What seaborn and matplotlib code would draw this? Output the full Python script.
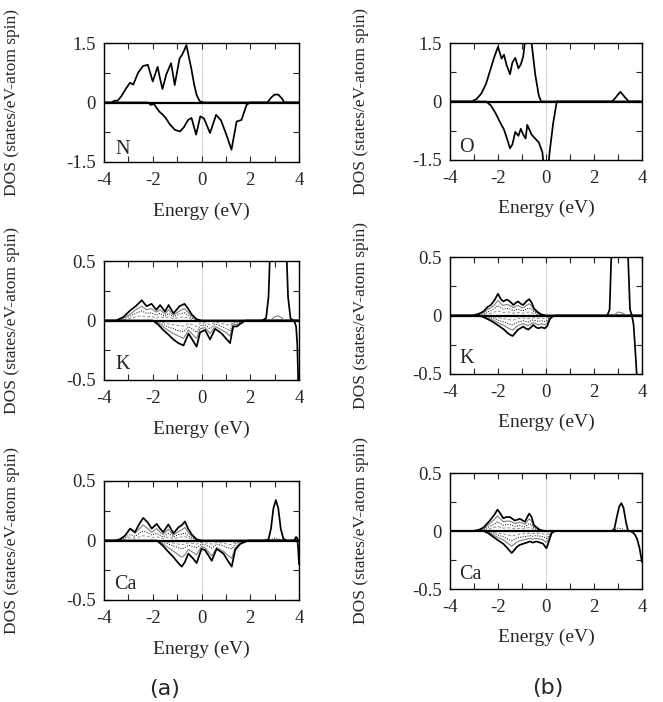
import matplotlib
matplotlib.use("Agg")
import matplotlib.pyplot as plt
import seaborn as sns
from matplotlib.ticker import MultipleLocator

# ---------------- data ----------------
# (a) N
N_up_x = [-4.0, -3.7, -3.55, -3.45, -3.3, -3.1, -2.93, -2.8, -2.6, -2.4, -2.2, -2.0, -1.8, -1.7, -1.6, -1.45, -1.25, -1.18, -1.1, -0.9, -0.8, -0.72, -0.62, -0.52, -0.42, -0.3, -0.2, -0.07, 0.1, 2.7, 2.85, 3.0, 3.15, 3.3, 3.4, 4.0]
N_up_y = [0, 0, 0.05, 0.04, 0.15, 0.35, 0.5, 0.45, 0.75, 0.92, 0.95, 0.53, 0.9, 0.6, 0.34, 0.7, 0.99, 0.75, 0.44, 1.11, 1.2, 1.3, 1.45, 1.15, 0.86, 0.45, 0.19, 0.03, 0, 0, 0.12, 0.2, 0.2, 0.1, 0, 0]
N_dn_x = [-4.0, -2.2, -2.08, -1.95, -1.73, -1.6, -1.47, -1.3, -1.09, -0.88, -0.72, -0.55, -0.41, -0.22, -0.05, 0.1, 0.35, 0.6, 0.8, 1.02, 1.23, 1.44, 1.64, 1.85, 1.99, 4.0]
N_dn_y = [0, 0, -0.06, -0.04, -0.23, -0.3, -0.39, -0.55, -0.69, -0.73, -0.62, -0.44, -0.39, -0.81, -0.35, -0.4, -0.77, -0.31, -0.45, -0.81, -1.19, -0.48, -0.44, -0.06, 0, 0]

# (b) O
O_up_x = [-4.0, -3.1, -2.9, -2.7, -2.5, -2.3, -2.15, -2.0, -1.85, -1.75, -1.65, -1.5, -1.4, -1.28, -1.15, -1.05, -0.95, -0.85, -0.7, -0.6, -0.45, -0.3, -0.2, 2.75, 2.9, 3.1, 3.3, 3.45, 4.0]
O_up_y = [0, 0, 0.06, 0.2, 0.45, 0.85, 1.15, 1.4, 1.1, 1.2, 0.95, 0.7, 1.0, 1.12, 0.85, 0.95, 1.15, 1.7, 2.4, 1.5, 0.7, 0.15, 0, 0, 0.1, 0.25, 0.1, 0, 0]
O_dn_x = [-4.0, -2.5, -2.3, -2.1, -1.9, -1.75, -1.6, -1.5, -1.4, -1.28, -1.15, -1.05, -0.95, -0.85, -0.78, -0.6, -0.45, -0.3, -0.15, -0.05, 0.05, 0.15, 0.3, 0.45, 4.0]
O_dn_y = [0, 0, -0.1, -0.3, -0.55, -0.72, -1.0, -1.2, -1.1, -0.78, -0.88, -0.7, -0.85, -0.95, -0.6, -0.85, -0.95, -1.05, -1.3, -2.0, -2.0, -1.3, -0.55, 0, 0]

# (a) K
KA_up_x = [-4.0, -3.5, -3.2, -2.95, -2.7, -2.45, -2.25, -2.05, -1.85, -1.7, -1.5, -1.35, -1.15, -0.9, -0.7, -0.55, -0.4, -0.2, 0.0, 4.0]
KA_up_1 = [0, 0, 0.03, 0.08, 0.12, 0.17, 0.12, 0.14, 0.09, 0.13, 0.075, 0.13, 0.06, 0.12, 0.14, 0.1, 0.05, 0.01, 0, 0]
KA_up_2 = [0, 0, 0.02, 0.05, 0.09, 0.12, 0.09, 0.1, 0.07, 0.09, 0.055, 0.09, 0.045, 0.08, 0.1, 0.07, 0.035, 0.01, 0, 0]
KA_up_3 = [0, 0, 0.01, 0.035, 0.06, 0.08, 0.06, 0.065, 0.045, 0.06, 0.035, 0.06, 0.03, 0.055, 0.065, 0.045, 0.02, 0.005, 0, 0]
KA_up_4 = [0, 0, 0.005, 0.015, 0.03, 0.04, 0.03, 0.035, 0.02, 0.03, 0.02, 0.03, 0.015, 0.025, 0.03, 0.02, 0.01, 0, 0, 0]
KA_dn_x = [-4.0, -2.0, -1.8, -1.57, -1.35, -1.15, -0.95, -0.74, -0.53, -0.35, -0.2, -0.06, 0.15, 0.35, 0.56, 0.7, 0.83, 1.0, 1.17, 1.3, 1.45, 1.58, 1.8, 4.0]
KA_dn_1 = [0, 0, -0.03, -0.08, -0.12, -0.16, -0.19, -0.21, -0.11, -0.17, -0.22, -0.1, -0.08, -0.16, -0.07, -0.09, -0.11, -0.15, -0.19, -0.05, -0.05, -0.03, 0, 0]
KA_dn_2 = [0, 0, -0.02, -0.055, -0.085, -0.11, -0.13, -0.15, -0.08, -0.12, -0.15, -0.07, -0.06, -0.11, -0.05, -0.065, -0.08, -0.1, -0.13, -0.035, -0.035, -0.02, 0, 0]
KA_dn_3 = [0, 0, -0.012, -0.035, -0.055, -0.07, -0.085, -0.095, -0.05, -0.075, -0.1, -0.045, -0.035, -0.07, -0.03, -0.04, -0.05, -0.065, -0.085, -0.02, -0.02, -0.012, 0, 0]
KA_dn_4 = [0, 0, -0.006, -0.018, -0.028, -0.035, -0.042, -0.048, -0.025, -0.038, -0.05, -0.022, -0.018, -0.035, -0.015, -0.02, -0.025, -0.032, -0.042, -0.01, -0.01, -0.006, 0, 0]
KA_cb_x = [2.5, 2.65, 2.75, 2.85, 3.0, 3.3, 3.45, 3.55, 3.65, 3.75]
KA_cb_y = [0, 0.02, 0.2, 0.8, 1.5, 1.5, 0.8, 0.2, 0.02, 0]
KA_cbi_x = [2.8, 3.0, 3.15, 3.3, 3.45]
KA_cbi_y = [0, 0.03, 0.04, 0.02, 0]
KA_edge_x = [3.8, 3.88, 3.93, 3.96, 4.0]
KA_edge_y = [0, -0.05, -0.2, -0.45, -0.8]

# (b) K
KB_up_x = [-4.0, -3.05, -2.8, -2.6, -2.45, -2.3, -2.15, -2.0, -1.88, -1.78, -1.65, -1.57, -1.45, -1.36, -1.25, -1.16, -1.05, -0.95, -0.82, -0.7, -0.6, -0.5, -0.35, -0.2, 0.0, 4.0]
KB_up_1 = [0, 0, 0.015, 0.035, 0.07, 0.09, 0.13, 0.185, 0.14, 0.12, 0.135, 0.13, 0.11, 0.09, 0.11, 0.12, 0.1, 0.09, 0.12, 0.14, 0.11, 0.06, 0.03, 0.01, 0, 0]
KB_up_2 = [0, 0, 0.01, 0.025, 0.05, 0.065, 0.09, 0.13, 0.1, 0.085, 0.095, 0.09, 0.08, 0.065, 0.08, 0.085, 0.07, 0.065, 0.085, 0.1, 0.08, 0.045, 0.02, 0.005, 0, 0]
KB_up_3 = [0, 0, 0.006, 0.016, 0.032, 0.04, 0.06, 0.085, 0.065, 0.055, 0.06, 0.06, 0.05, 0.04, 0.05, 0.055, 0.045, 0.04, 0.055, 0.065, 0.05, 0.03, 0.012, 0.004, 0, 0]
KB_up_4 = [0, 0, 0.003, 0.008, 0.015, 0.02, 0.03, 0.04, 0.03, 0.025, 0.03, 0.03, 0.025, 0.02, 0.025, 0.025, 0.02, 0.02, 0.025, 0.03, 0.025, 0.015, 0.006, 0.002, 0, 0]
KB_dn_x = [-4.0, -2.8, -2.6, -2.34, -2.1, -1.92, -1.75, -1.6, -1.45, -1.39, -1.25, -1.16, -0.95, -0.85, -0.74, -0.62, -0.53, -0.42, -0.32, -0.2, -0.05, 0.05, 0.16, 0.3, 0.4, 4.0]
KB_dn_1 = [0, 0, -0.015, -0.04, -0.07, -0.095, -0.12, -0.15, -0.17, -0.175, -0.14, -0.12, -0.095, -0.11, -0.12, -0.1, -0.08, -0.1, -0.11, -0.1, -0.11, -0.09, -0.03, -0.005, 0, 0]
KB_dn_2 = [0, 0, -0.01, -0.03, -0.05, -0.07, -0.085, -0.105, -0.12, -0.125, -0.1, -0.085, -0.07, -0.08, -0.085, -0.07, -0.06, -0.07, -0.08, -0.07, -0.08, -0.065, -0.02, -0.003, 0, 0]
KB_dn_3 = [0, 0, -0.006, -0.018, -0.032, -0.045, -0.055, -0.07, -0.078, -0.08, -0.065, -0.055, -0.045, -0.05, -0.055, -0.045, -0.038, -0.045, -0.05, -0.045, -0.05, -0.04, -0.012, -0.002, 0, 0]
KB_dn_4 = [0, 0, -0.003, -0.009, -0.016, -0.022, -0.027, -0.034, -0.038, -0.04, -0.032, -0.027, -0.022, -0.025, -0.027, -0.022, -0.019, -0.022, -0.025, -0.022, -0.025, -0.02, -0.006, -0.001, 0, 0]
KB_cb_x = [2.55, 2.65, 2.72, 2.8, 3.0, 3.3, 3.42, 3.5, 3.58]
KB_cb_y = [0, 0.05, 0.5, 1.2, 1.5, 1.5, 0.5, 0.05, 0]
KB_cbi_x = [2.8, 3.0, 3.2, 3.4]
KB_cbi_y = [0, 0.03, 0.02, 0]
KB_edge_x = [3.58, 3.65, 3.72, 3.78, 3.85, 4.0]
KB_edge_y = [0, -0.08, -0.3, -0.5, -0.8, -1.2]

# (a) Ca
CA_up_x = [-4.0, -3.55, -3.35, -3.14, -2.93, -2.73, -2.55, -2.39, -2.2, -2.04, -1.84, -1.7, -1.57, -1.36, -1.15, -0.95, -0.8, -0.68, -0.55, -0.4, -0.2, 0.0, 4.0]
CA_up_1 = [0, 0, 0.01, 0.04, 0.1, 0.07, 0.14, 0.19, 0.15, 0.1, 0.14, 0.1, 0.07, 0.135, 0.06, 0.11, 0.13, 0.16, 0.1, 0.05, 0.01, 0, 0]
CA_up_2 = [0, 0, 0.01, 0.04, 0.095, 0.06, 0.1, 0.13, 0.1, 0.07, 0.1, 0.07, 0.05, 0.095, 0.045, 0.075, 0.09, 0.11, 0.07, 0.035, 0.008, 0, 0]
CA_up_3 = [0, 0, 0.005, 0.02, 0.05, 0.035, 0.06, 0.08, 0.065, 0.045, 0.06, 0.045, 0.03, 0.06, 0.03, 0.05, 0.055, 0.065, 0.04, 0.02, 0.005, 0, 0]
CA_up_4 = [0, 0, 0.003, 0.01, 0.025, 0.02, 0.03, 0.04, 0.035, 0.025, 0.03, 0.025, 0.015, 0.03, 0.015, 0.025, 0.03, 0.035, 0.02, 0.01, 0.002, 0, 0]
CA_dn_x = [-4.0, -1.84, -1.6, -1.43, -1.15, -0.95, -0.81, -0.68, -0.54, -0.35, -0.2, 0.0, 0.14, 0.3, 0.42, 0.62, 0.9, 1.05, 1.24, 1.38, 1.58, 1.92, 4.0]
CA_dn_1 = [0, 0, -0.04, -0.08, -0.14, -0.19, -0.22, -0.18, -0.11, -0.15, -0.19, -0.07, -0.08, -0.13, -0.17, -0.07, -0.11, -0.16, -0.22, -0.08, -0.03, 0, 0]
CA_dn_2 = [0, 0, -0.025, -0.05, -0.09, -0.12, -0.14, -0.12, -0.075, -0.1, -0.12, -0.05, -0.06, -0.1, -0.13, -0.06, -0.09, -0.12, -0.15, -0.06, -0.02, 0, 0]
CA_dn_3 = [0, 0, -0.012, -0.025, -0.045, -0.06, -0.07, -0.06, -0.04, -0.05, -0.06, -0.03, -0.035, -0.05, -0.065, -0.03, -0.045, -0.06, -0.07, -0.03, -0.01, 0, 0]
CA_dn_4 = [0, 0, -0.006, -0.012, -0.022, -0.03, -0.035, -0.03, -0.02, -0.025, -0.03, -0.015, -0.018, -0.025, -0.03, -0.015, -0.022, -0.03, -0.035, -0.015, -0.005, 0, 0]
CA_cb_x = [2.6, 2.75, 2.85, 2.95, 3.05, 3.15, 3.25, 3.35, 3.45]
CA_cb_y = [0, 0.01, 0.1, 0.27, 0.34, 0.27, 0.1, 0.02, 0]
CA_cbi_x = [2.8, 3.0, 3.2, 3.3]
CA_cbi_y = [0, 0.02, 0.01, 0]
CA_edge_x = [3.8, 3.88, 3.93, 3.97, 4.0]
CA_edge_y = [0, 0.03, 0.02, -0.08, -0.2]

# (b) Ca
CB_up_x = [-4.0, -3.05, -2.8, -2.6, -2.34, -2.15, -2.02, -1.9, -1.78, -1.65, -1.5, -1.3, -1.09, -0.88, -0.78, -0.7, -0.6, -0.5, -0.26, -0.05, 4.0]
CB_up_1 = [0, 0, 0.01, 0.03, 0.09, 0.14, 0.185, 0.15, 0.11, 0.12, 0.12, 0.09, 0.105, 0.08, 0.12, 0.15, 0.12, 0.05, 0.01, 0, 0]
CB_up_2 = [0, 0, 0.007, 0.02, 0.065, 0.1, 0.13, 0.105, 0.08, 0.085, 0.085, 0.065, 0.075, 0.06, 0.085, 0.105, 0.085, 0.035, 0.007, 0, 0]
CB_up_3 = [0, 0, 0.004, 0.013, 0.04, 0.06, 0.08, 0.065, 0.05, 0.055, 0.055, 0.04, 0.047, 0.036, 0.055, 0.065, 0.053, 0.022, 0.004, 0, 0]
CB_up_4 = [0, 0, 0.002, 0.006, 0.02, 0.03, 0.04, 0.032, 0.025, 0.027, 0.027, 0.02, 0.023, 0.018, 0.027, 0.032, 0.026, 0.011, 0.002, 0, 0]
CB_dn_x = [-4.0, -2.6, -2.4, -2.2, -2.0, -1.78, -1.6, -1.43, -1.3, -1.23, -1.1, -0.95, -0.8, -0.67, -0.55, -0.4, -0.25, -0.12, 0.02, 0.12, 0.23, 0.37, 4.0]
CB_dn_1 = [0, 0, -0.02, -0.05, -0.08, -0.11, -0.15, -0.19, -0.16, -0.14, -0.12, -0.11, -0.1, -0.09, -0.1, -0.09, -0.1, -0.11, -0.15, -0.09, -0.02, 0, 0]
CB_dn_2 = [0, 0, -0.014, -0.035, -0.056, -0.077, -0.105, -0.13, -0.11, -0.1, -0.085, -0.077, -0.07, -0.063, -0.07, -0.063, -0.07, -0.077, -0.1, -0.06, -0.014, 0, 0]
CB_dn_3 = [0, 0, -0.009, -0.022, -0.036, -0.05, -0.068, -0.085, -0.072, -0.063, -0.054, -0.05, -0.045, -0.04, -0.045, -0.04, -0.045, -0.05, -0.065, -0.04, -0.009, 0, 0]
CB_dn_4 = [0, 0, -0.004, -0.011, -0.018, -0.025, -0.034, -0.042, -0.036, -0.031, -0.027, -0.025, -0.022, -0.02, -0.022, -0.02, -0.022, -0.025, -0.032, -0.02, -0.004, 0, 0]
CB_cb_x = [2.75, 2.85, 2.95, 3.05, 3.14, 3.23, 3.33, 3.42]
CB_cb_y = [0, 0.02, 0.12, 0.21, 0.24, 0.2, 0.08, 0]
CB_cbi_x = [2.8, 3.0, 3.15, 3.35]
CB_cbi_y = [0, 0.025, 0.02, 0]
CB_edge_x = [3.5, 3.6, 3.7, 3.8, 3.9, 4.0]
CB_edge_y = [0, -0.01, -0.03, -0.07, -0.15, -0.27]

ELEMENT_LABELS = ["N", "O", "K", "K", "Ca", "Ca"]
XTICKS = [-4, -2, 0, 2, 4]
YLAB = "DOS (states/eV-atom spin)"
XLAB = "Energy (eV)"

# ---------------- styling ----------------
sns.set_style("ticks")
plt.rcParams["font.family"] = ["Liberation Serif", "DejaVu Serif"]
plt.rcParams["mathtext.fontset"] = "stix"

W, H = 663, 702
fig = plt.figure(figsize=(W / 100, H / 100), dpi=100)

boxes = [
    (104, 43, 299, 162),
    (450, 43, 642, 160),
    (104, 261, 299, 380),
    (450, 257, 642, 374),
    (104, 481, 299, 600),
    (450, 473, 642, 589),
]

OUTER = dict(color="black", lw=1.25)
STY = [
    dict(color="#808080", lw=0.8),
    dict(color="black", lw=0.7, dashes=(1, 1.5)),
    dict(color="#909090", lw=0.7, dashes=(3, 2)),
]


def curve(ax, x, y, color="black", lw=1.0, dashes=None):
    line_ax = sns.lineplot(x=x, y=y, ax=ax, sort=False, estimator=None,
                           color=color, lw=lw)
    if dashes is not None:
        line_ax.get_lines()[-1].set_dashes(dashes)


axes = []
for (l, t, r, b) in boxes:
    ax = fig.add_axes([l / W, 1 - b / H, (r - l) / W, (b - t) / H])
    axes.append(ax)

def decorate(ax, ylim, ymaj, ymin, label, label_pos, ylab_x):
    ax.axvline(0, color="#b0b0b0", lw=0.7, dashes=(1, 1), zorder=0)
    ax.axhline(0, color="black", lw=1.6, zorder=3)
    ax.set_xlim(-4, 4)
    ax.set_ylim(*ylim)
    ax.set_xticks(XTICKS)
    ax.xaxis.set_minor_locator(MultipleLocator(1))
    ax.yaxis.set_major_locator(MultipleLocator(ymaj))
    ax.yaxis.set_minor_locator(MultipleLocator(ymin))
    ax.set_xticklabels([str(v) for v in XTICKS])
    ax.yaxis.set_major_formatter(matplotlib.ticker.FuncFormatter(
        lambda v, p: "0" if abs(v) < 1e-9 else ("%g" % v)))
    ax.tick_params(which="both", direction="in", top=True, right=True,
                   length=4, width=0.8, labelsize=13.5, pad=6)
    ax.tick_params(axis="x", pad=7)
    for s in ax.spines.values():
        s.set_linewidth(1.0)
        s.set_color("black")
    ax.set_xlabel(XLAB, fontsize=14)
    ax.xaxis.set_label_coords(0.5, -0.34)
    ax.set_ylabel(YLAB, fontsize=12.5)
    ax.yaxis.set_label_coords(ylab_x, 0.5)
    ax.text(label_pos[0], label_pos[1], label, transform=ax.transAxes,
            fontsize=14.5, ha="left", va="baseline")

# N
ax = axes[0]
curve(ax, N_up_x, N_up_y, **OUTER)
curve(ax, N_dn_x, N_dn_y, **OUTER)
decorate(ax, (-1.5, 1.5), 1.5, 0.75, ELEMENT_LABELS[0], (0.06, 0.07), -0.43)

# O
ax = axes[1]
curve(ax, O_up_x, O_up_y, **OUTER)
curve(ax, O_dn_x, O_dn_y, **OUTER)
decorate(ax, (-1.5, 1.5), 1.5, 0.75, ELEMENT_LABELS[1], (0.05, 0.07), -0.42)

# K (a)
ax = axes[2]
for ys, st in zip([KA_up_2, KA_up_3, KA_up_4], STY):
    curve(ax, KA_up_x, ys, **st)
for ys, st in zip([KA_dn_2, KA_dn_3, KA_dn_4], STY):
    curve(ax, KA_dn_x, ys, **st)
curve(ax, KA_up_x, KA_up_1, **OUTER)
curve(ax, KA_dn_x, KA_dn_1, **OUTER)
curve(ax, KA_cbi_x, KA_cbi_y, **STY[0])
curve(ax, KA_cb_x, KA_cb_y, **OUTER)
curve(ax, KA_edge_x, KA_edge_y, **OUTER)
decorate(ax, (-0.5, 0.5), 0.5, 0.25, ELEMENT_LABELS[2], (0.06, 0.09), -0.43)

# K (b)
ax = axes[3]
for ys, st in zip([KB_up_2, KB_up_3, KB_up_4], STY):
    curve(ax, KB_up_x, ys, **st)
for ys, st in zip([KB_dn_2, KB_dn_3, KB_dn_4], STY):
    curve(ax, KB_dn_x, ys, **st)
curve(ax, KB_up_x, KB_up_1, **OUTER)
curve(ax, KB_dn_x, KB_dn_1, **OUTER)
curve(ax, KB_cbi_x, KB_cbi_y, **STY[0])
curve(ax, KB_cb_x, KB_cb_y, **OUTER)
curve(ax, KB_edge_x, KB_edge_y, **OUTER)
decorate(ax, (-0.5, 0.5), 0.5, 0.25, ELEMENT_LABELS[3], (0.05, 0.09), -0.42)

# Ca (a)
ax = axes[4]
for ys, st in zip([CA_up_2, CA_up_3, CA_up_4], STY):
    curve(ax, CA_up_x, ys, **st)
for ys, st in zip([CA_dn_2, CA_dn_3, CA_dn_4], STY):
    curve(ax, CA_dn_x, ys, **st)
curve(ax, CA_up_x, CA_up_1, **OUTER)
curve(ax, CA_dn_x, CA_dn_1, **OUTER)
curve(ax, CA_cbi_x, CA_cbi_y, **STY[1])
curve(ax, CA_cb_x, CA_cb_y, **OUTER)
curve(ax, CA_edge_x, CA_edge_y, **OUTER)
decorate(ax, (-0.5, 0.5), 0.5, 0.25, ELEMENT_LABELS[4], (0.05, 0.09), -0.43)

# Ca (b)
ax = axes[5]
for ys, st in zip([CB_up_2, CB_up_3, CB_up_4], STY):
    curve(ax, CB_up_x, ys, **st)
for ys, st in zip([CB_dn_2, CB_dn_3, CB_dn_4], STY):
    curve(ax, CB_dn_x, ys, **st)
curve(ax, CB_up_x, CB_up_1, **OUTER)
curve(ax, CB_dn_x, CB_dn_1, **OUTER)
curve(ax, CB_cbi_x, CB_cbi_y, **STY[1])
curve(ax, CB_cb_x, CB_cb_y, **OUTER)
curve(ax, CB_edge_x, CB_edge_y, **OUTER)
decorate(ax, (-0.5, 0.5), 0.5, 0.25, ELEMENT_LABELS[5], (0.05, 0.09), -0.42)

fig.text(165 / W, 1 - 689 / H, "(a)", ha="center", va="center",
         fontsize=16, family=["DejaVu Sans"])
fig.text(548 / W, 1 - 688 / H, "(b)", ha="center", va="center",
         fontsize=16, family=["DejaVu Sans"])

fig.savefig("out.png", dpi=100)
